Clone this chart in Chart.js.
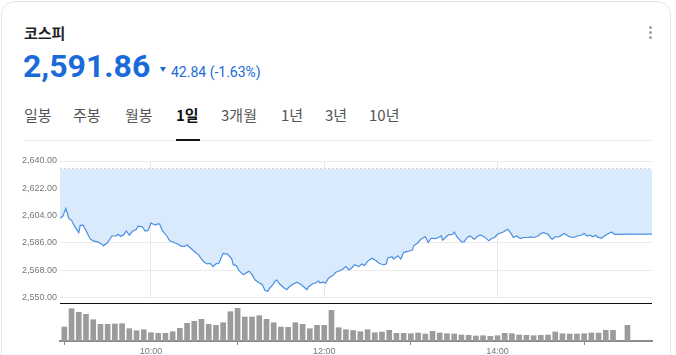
<!DOCTYPE html>
<html>
<head>
<meta charset="utf-8">
<script src="https://cdn.jsdelivr.net/npm/chart.js@4"></script>
<style>
  html, body { margin: 0; padding: 0; background: #fff; }
  body { width: 676px; height: 355px; position: relative; overflow: hidden; font-family: "Noto Sans CJK KR", "Noto Sans", sans-serif; }
  .card { position: absolute; left: 1px; top: 1px; width: 668px; height: 420px; border: 1px solid #e4e4e4; border-radius: 14px; }
  .abs { position: absolute; white-space: nowrap; }
  #title { left: 24px; top: 25px; font-size: 15px; line-height: 15px; font-weight: 700; color: #1f1f1f; }
  #price { left: 23px; top: 50px; font-family: Roboto, "Liberation Sans", sans-serif; font-size: 32px; line-height: 32px; font-weight: 700; color: #1a6ad9; }
  #arrow { left: 160px; top: 67px; width: 0; height: 0; border-left: 3px solid transparent; border-right: 3px solid transparent; border-top: 5px solid #1a6ad9; }
  #change { left: 171px; top: 65px; font-family: Roboto, "Liberation Sans", sans-serif; font-size: 14px; line-height: 14px; color: #1a6ad9; }
  .tab { top: 104px; font-size: 15px; line-height: 22px; color: #555; }
  .tab.on { color: #111; font-weight: 700; }
  #tabline { left: 24px; top: 140px; width: 628px; height: 1px; background: #ececec; }
  #tabmark { left: 176px; top: 139px; width: 24px; height: 2px; background: #111; }
  .dot { left: 649px; width: 3px; height: 3px; border-radius: 50%; background: #a0a0a0; }
  canvas { position: absolute; left: 0; }
  #priceChart { top: 150px; }
  #volumeChart { top: 300px; }
</style>
</head>
<body>
<div class="card"></div>
<div class="abs" id="title">코스피</div>
<div class="abs" id="price">2,591.86</div>
<div class="abs" id="arrow"></div>
<div class="abs" id="change">42.84 (-1.63%)</div>
<div id="tabs"></div>
<div class="abs" id="tabline"></div>
<div class="abs" id="tabmark"></div>
<div class="abs dot" style="top:26px"></div>
<div class="abs dot" style="top:31px"></div>
<div class="abs dot" style="top:36px"></div>
<canvas id="priceChart" width="676" height="156"></canvas>
<canvas id="volumeChart" width="676" height="55"></canvas>
<script>
// minutes after 09:00 and index level
const priceTimes = [-3, -1, 1, 2, 3, 5, 7, 9, 10, 11, 13, 16, 18, 20, 23, 26, 27, 30, 32, 33,
  36, 37, 39, 41, 43, 45, 47, 50, 51, 54, 56, 58, 60, 63, 65, 66, 68, 71, 73, 76,
  79, 81, 83, 85, 87, 90, 93, 95, 97, 99, 101, 103, 105, 107, 109, 110, 113, 116, 117, 119,
  121, 124, 126, 128, 130, 132, 135, 137, 139, 141, 142, 144, 146, 147, 149, 152, 154, 156, 159, 161,
  163, 165, 168, 169, 172, 174, 176, 177, 179, 181, 183, 186, 188, 190, 193, 195, 197, 199, 201, 204,
  206, 208, 210, 213, 216, 218, 221, 223, 224, 227, 228, 231, 233, 235, 238, 241, 242, 245, 247, 250,
  252, 254, 257, 259, 261, 262, 264, 266, 269, 270, 272, 275, 277, 279, 281, 284, 286, 288, 291, 294,
  296, 298, 300, 304, 307, 309, 311, 313, 316, 318, 321, 323, 325, 328, 330, 332, 335, 337, 338, 340,
  343, 346, 348, 350, 353, 355, 358, 360, 362, 364, 366, 368, 369, 372, 374, 376, 379, 381, 384, 390, 407];
const prices = [2602.3, 2603.7, 2608.7, 2605.9, 2602.2, 2600.9, 2597.1, 2594.3, 2592.8, 2597.6, 2597.8, 2592.2, 2588.5, 2587.4, 2586.7, 2585.2, 2584.1, 2586.3, 2589.1, 2590.6,
  2590.6, 2591.7, 2590.4, 2591.3, 2593.9, 2591.1, 2593.5, 2595.0, 2597.1, 2596.7, 2593.9, 2594.3, 2599.1, 2597.8, 2598.7, 2598.3, 2593.9, 2590.6, 2587.4, 2586.3,
  2585.2, 2583.7, 2583.7, 2584.7, 2583.0, 2580.4, 2578.2, 2575.4, 2573.3, 2572.2, 2572.6, 2570.4, 2572.2, 2572.6, 2576.9, 2579.1, 2578.7, 2575.4, 2571.7, 2571.1,
  2567.8, 2565.0, 2566.3, 2567.4, 2565.2, 2561.7, 2559.6, 2558.7, 2554.7, 2554.1, 2555.9, 2558.0, 2560.9, 2561.7, 2559.1, 2556.5, 2555.2, 2557.3, 2559.1, 2560.2,
  2559.1, 2557.8, 2555.2, 2557.0, 2559.1, 2559.6, 2560.9, 2559.6, 2560.2, 2559.6, 2563.0, 2564.5, 2566.7, 2567.4, 2568.9, 2570.4, 2568.2, 2569.5, 2571.7, 2570.4,
  2572.2, 2571.1, 2573.9, 2575.9, 2574.3, 2572.6, 2571.5, 2572.2, 2576.1, 2576.9, 2575.4, 2577.6, 2575.4, 2579.8, 2580.4, 2581.3, 2584.1, 2586.3, 2588.5, 2590.2,
  2586.3, 2589.1, 2588.9, 2589.6, 2590.6, 2587.8, 2589.6, 2591.3, 2591.7, 2593.2, 2590.0, 2586.7, 2586.9, 2589.6, 2590.6, 2588.5, 2590.2, 2591.3, 2590.0, 2587.4,
  2588.9, 2589.6, 2591.7, 2593.2, 2595.0, 2592.8, 2589.6, 2590.6, 2588.9, 2589.6, 2589.6, 2590.0, 2589.6, 2590.6, 2592.2, 2592.8, 2591.7, 2589.1, 2588.5, 2590.0,
  2590.2, 2592.2, 2591.3, 2590.0, 2589.6, 2590.6, 2591.1, 2592.2, 2590.6, 2591.1, 2590.0, 2591.1, 2590.0, 2589.1, 2590.6, 2591.7, 2593.2, 2591.7, 2591.7, 2591.86, 2591.86];
const prevClose = 2634.70;

// 5-minute volume bars starting at 09:00
const volumeStep = 5;
const volumes = [140, 323, 287, 267, 213, 167, 167, 170, 173, 123, 103, 113, 83, 77, 77, 93, 127, 177, 197, 217,
  167, 157, 183, 293, 327, 240, 240, 253, 217, 183, 140, 137, 183, 167, 123, 157, 157, 307, 133, 113,
  105, 93, 113, 83, 90, 107, 77, 77, 73, 80, 70, 97, 80, 73, 70, 60, 57, 50, 53, 47,
  53, 77, 73, 60, 57, 53, 57, 60, 90, 73, 70, 70, 73, 80, 80, 107, 107, 0, 157];

const tabs = ['일봉', '주봉', '월봉', '1일', '3개월', '1년', '3년', '10년'];
const tabLeft = [24, 73, 125, 176, 221, 281, 325, 369];
const activeTab = '1일';
const timeTicks = [60, 180, 300];
const xMin = -3, xMax = 407;

const tabBox = document.getElementById('tabs');
tabs.forEach((t, i) => {
  const d = document.createElement('div');
  d.className = 'abs tab' + (t === activeTab ? ' on' : '');
  d.style.left = tabLeft[i] + 'px';
  d.textContent = t;
  tabBox.appendChild(d);
});

function timeLabel(m) {
  const h = 9 + Math.floor(m / 60);
  const mm = m % 60;
  return h + ':' + String(mm).padStart(2, '0');
}

const tickFont = { family: 'Liberation Sans', size: 9 };
const tickColor = '#777';

new Chart(document.getElementById('priceChart'), {
  type: 'line',
  data: {
    datasets: [{
      data: priceTimes.map((t, i) => ({ x: t, y: prices[i] })),
      borderColor: '#4a8fe0',
      borderWidth: 1.2,
      backgroundColor: '#d9eafc',
      fill: { value: prevClose },
      pointRadius: 0,
      tension: 0
    }, {
      data: [{ x: xMin, y: prevClose }, { x: xMax, y: prevClose }],
      borderColor: '#a9a9a9',
      borderWidth: 1,
      borderDash: [2, 2],
      pointRadius: 0,
      fill: false
    }]
  },
  options: {
    responsive: false,
    animation: false,
    layout: { padding: { top: 11, bottom: 7, right: 24, left: 0 } },
    plugins: { legend: { display: false }, tooltip: { enabled: false } },
    scales: {
      x: {
        type: 'linear', min: xMin, max: xMax,
        afterBuildTicks: s => { s.ticks = timeTicks.map(v => ({ value: v })); },
        afterFit: s => { s.height = 0; },
        ticks: { display: false },
        grid: { color: '#e8e8e8', drawTicks: false },
        border: { display: false }
      },
      y: {
        min: 2550, max: 2640,
        afterFit: s => { s.width = 60; },
        ticks: {
          stepSize: 18, padding: 3, color: tickColor, font: tickFont,
          callback: v => v.toLocaleString('en-US', { minimumFractionDigits: 2, maximumFractionDigits: 2 })
        },
        grid: { color: '#ebebeb', drawTicks: false },
        border: { display: false }
      }
    }
  }
});

const topLine = {
  id: 'topLine',
  afterDraw(chart) {
    const { ctx, chartArea } = chart;
    ctx.save();
    ctx.strokeStyle = '#111';
    ctx.lineWidth = 1;
    ctx.beginPath();
    ctx.moveTo(chartArea.left, chartArea.top + 0.5);
    ctx.lineTo(chartArea.right, chartArea.top + 0.5);
    ctx.stroke();
    ctx.restore();
  }
};

new Chart(document.getElementById('volumeChart'), {
  type: 'bar',
  data: {
    datasets: [{
      data: volumes.map((v, i) => ({ x: i * volumeStep, y: v })),
      backgroundColor: '#9b9b9b',
      barThickness: 5
    }]
  },
  options: {
    responsive: false,
    animation: false,
    layout: { padding: { top: 3, bottom: 0, right: 24, left: 60 } },
    plugins: { legend: { display: false }, tooltip: { enabled: false } },
    scales: {
      x: {
        type: 'linear', min: xMin, max: xMax, offset: false,
        afterBuildTicks: s => { s.ticks = timeTicks.map(v => ({ value: v })); },
        afterFit: s => { s.height = 14; },
        ticks: { padding: 1, color: tickColor, font: tickFont, maxRotation: 0, callback: v => timeLabel(v) },
        grid: { drawOnChartArea: false, drawTicks: true, tickLength: 4, tickColor: '#888' },
        border: { color: '#8a8a8a', width: 2 }
      },
      y: { display: false, min: 0, max: 380 }
    }
  },
  plugins: [topLine]
});
</script>
</body>
</html>
